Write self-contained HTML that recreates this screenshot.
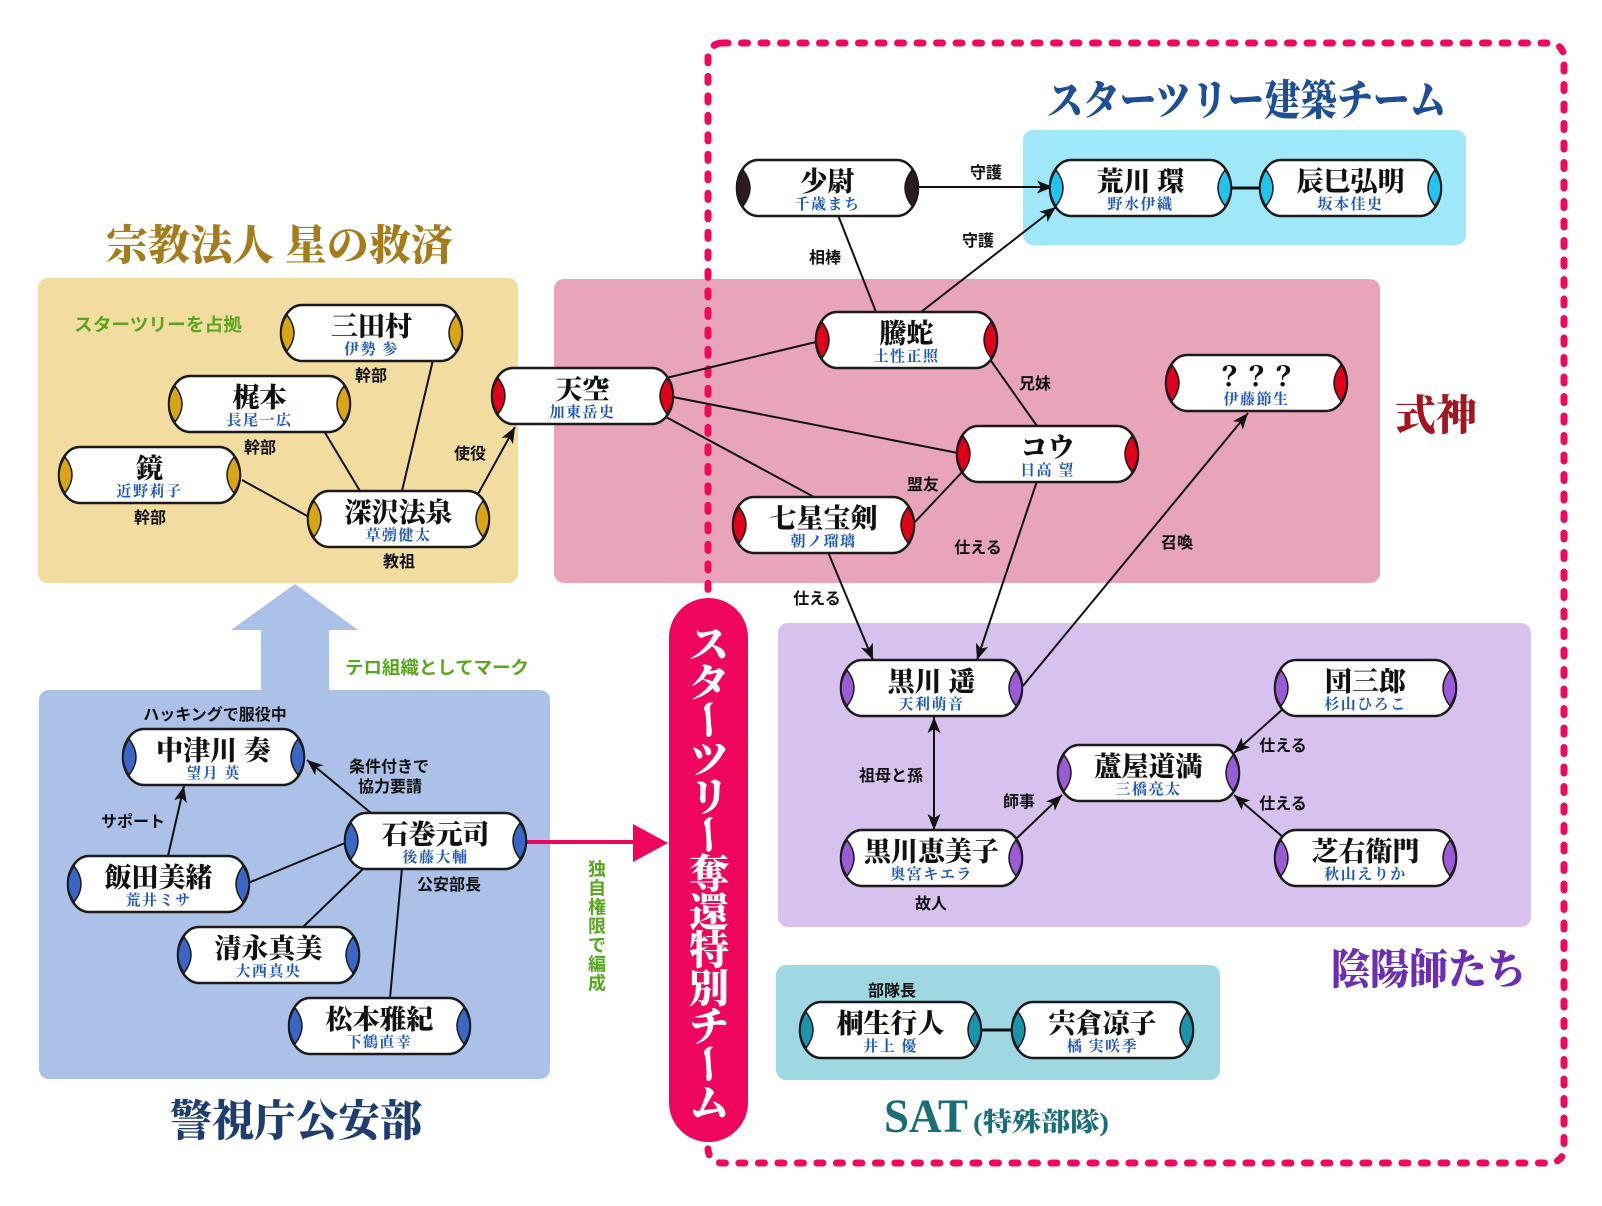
<!DOCTYPE html>
<html><head><meta charset="utf-8">
<style>
html,body{margin:0;padding:0;background:#fff;}
svg{display:block;}
text.n{font:900 27px "Liberation Serif","Noto Serif CJK JP",serif;fill:#111;text-anchor:middle;}
text.s{font:700 15px "Liberation Serif","Noto Serif CJK JP",serif;fill:#1a55c6;text-anchor:middle;letter-spacing:1.5px;}
text.l{font:700 16px "Liberation Sans","Noto Sans CJK JP",sans-serif;fill:#111;text-anchor:middle;}
text.g{font:700 18px "Liberation Sans","Noto Sans CJK JP",sans-serif;fill:#57a61d;text-anchor:middle;}
text.t{font:900 42px "Liberation Serif","Noto Serif CJK JP",serif;}
text.p{font:900 40px "Liberation Serif","Noto Serif CJK JP",serif;fill:#fff;text-anchor:middle;}
</style></head>
<body>
<svg width="1602" height="1206" viewBox="0 0 1602 1206" xmlns="http://www.w3.org/2000/svg">
<defs>
<rect id="body" x="0" y="0" width="181" height="56" rx="21" ry="28" fill="#fff" stroke="#1a1a1a" stroke-width="2.5"/>
<path id="lL" d="M6,10 Q-6,28 6,46 Q20,28 6,10Z" stroke="#1a1a1a" stroke-width="1.5"/>
<path id="lR" d="M175,10 Q187,28 175,46 Q161,28 175,10Z" stroke="#1a1a1a" stroke-width="1.5"/>
<marker id="ah" markerUnits="userSpaceOnUse" markerWidth="17" markerHeight="13" refX="16" refY="6.5" orient="auto">
<path d="M0,0 L16,6.5 L0,13 L4,6.5 Z" fill="#111"/></marker>
<marker id="ah2" markerUnits="userSpaceOnUse" markerWidth="17" markerHeight="13" refX="16" refY="6.5" orient="auto-start-reverse">
<path d="M0,0 L16,6.5 L0,13 L4,6.5 Z" fill="#111"/></marker>
</defs>

<rect x="0" y="0" width="1602" height="1206" fill="#fff"/>

<!-- group boxes -->
<rect x="38" y="278" width="480" height="305" rx="10" fill="#f3dc9f"/>
<rect x="554" y="279" width="826" height="304" rx="10" fill="#e8a5ba"/>
<rect x="1023" y="130" width="443" height="115" rx="10" fill="#9fe8fa"/>
<rect x="39" y="690" width="511" height="389" rx="10" fill="#abc1e7"/>
<rect x="778" y="623" width="753" height="304" rx="10" fill="#d6c1ef"/>
<rect x="776" y="965" width="444" height="115" rx="10" fill="#9fd7e3"/>

<!-- big up arrow -->
<polygon points="295,584 358,630 329,630 329,690 261,690 261,630 231,630" fill="#abc1e7"/>

<!-- titles -->
<text class="t" x="106" y="260" textLength="347" lengthAdjust="spacingAndGlyphs" fill="#a67b1b">宗教法人 星の救済</text>
<text class="t" x="1047" y="115" textLength="399" lengthAdjust="spacingAndGlyphs" fill="#1e4f96">スターツリー建築チーム</text>
<text class="t" x="1395" y="430" textLength="82" lengthAdjust="spacingAndGlyphs" fill="#a3151f">式神</text>
<text class="t" x="1331" y="984" textLength="195" lengthAdjust="spacingAndGlyphs" fill="#6a2db4">陰陽師たち</text>
<text class="t" x="170" y="1136" textLength="252" lengthAdjust="spacingAndGlyphs" fill="#1f3e70" style="font-size:43px">警視庁公安部</text>
<text x="884" y="1132" textLength="84" lengthAdjust="spacingAndGlyphs" fill="#1b6d79" style="font:700 48px 'Liberation Serif',serif">SAT</text>
<text x="973" y="1131" textLength="136" lengthAdjust="spacingAndGlyphs" fill="#1b6d79" style="font:900 26px 'Liberation Serif','Noto Serif CJK JP',serif">(特殊部隊)</text>

<!-- green labels -->
<text class="g" x="158" y="331" textLength="168" lengthAdjust="spacingAndGlyphs">スターツリーを占拠</text>
<text class="g" x="437" y="674" textLength="184" lengthAdjust="spacingAndGlyphs">テロ組織としてマーク</text>
<text class="g" x="597" y="875.5">独</text>
<text class="g" x="597" y="894.5">自</text>
<text class="g" x="597" y="913.5">権</text>
<text class="g" x="597" y="932.5">限</text>
<text class="g" x="597" y="951.5">で</text>
<text class="g" x="597" y="970.5">編</text>
<text class="g" x="597" y="989.5">成</text>

<!-- dashed border -->
<rect x="708" y="43" width="856" height="1120" rx="14" fill="none" stroke="#f2075f" stroke-width="7" stroke-dasharray="6 13.5" stroke-linecap="round"/>

<!-- magenta pill -->
<rect x="669" y="598" width="79" height="544" rx="39.5" fill="#f0055e"/>
<text class="p" x="709" y="658">ス</text>
<text class="p" x="709" y="696.25">タ</text>
<text class="p" x="709" y="734.5" transform="rotate(90 709 719.5)">ー</text>
<text class="p" x="709" y="772.75">ツ</text>
<text class="p" x="709" y="811">リ</text>
<text class="p" x="709" y="849.25" transform="rotate(90 709 834.25)">ー</text>
<text class="p" x="709" y="887.5">奪</text>
<text class="p" x="709" y="925.75">還</text>
<text class="p" x="709" y="964">特</text>
<text class="p" x="709" y="1002.25">別</text>
<text class="p" x="709" y="1040.5">チ</text>
<text class="p" x="709" y="1078.75" transform="rotate(90 709 1063.75)">ー</text>
<text class="p" x="709" y="1117">ム</text>

<!-- magenta arrow -->
<line x1="527" y1="842" x2="635" y2="842" stroke="#f0055e" stroke-width="4"/>
<polygon points="633,824 668,843 633,862" fill="#f0055e"/>

<!-- connectors -->
<g stroke="#111" stroke-width="2" fill="none">
<line x1="242" y1="480" x2="309" y2="517"/>
<line x1="324" y1="431" x2="360" y2="491"/>
<line x1="433" y1="360" x2="402" y2="491"/>
<line x1="478" y1="494" x2="515" y2="427" marker-end="url(#ah)"/>
<line x1="666" y1="378" x2="816" y2="342"/>
<line x1="673" y1="397" x2="958" y2="453"/>
<line x1="666" y1="417" x2="814" y2="497"/>
<line x1="914" y1="523" x2="964" y2="470"/>
<line x1="989" y1="358" x2="1037" y2="426"/>
<line x1="838" y1="215" x2="876" y2="312"/>
<line x1="918" y1="187" x2="1053" y2="187" marker-end="url(#ah)"/>
<line x1="921" y1="312" x2="1056" y2="207" marker-end="url(#ah)"/>
<line x1="1022" y1="687" x2="1248" y2="413" marker-end="url(#ah)"/>
<line x1="828" y1="552" x2="873" y2="660" marker-end="url(#ah)"/>
<line x1="1037" y1="481" x2="977" y2="660" marker-end="url(#ah)"/>
<line x1="1231" y1="188" x2="1260" y2="188" stroke-width="3"/>
<line x1="934" y1="717" x2="934" y2="830" marker-start="url(#ah2)" marker-end="url(#ah2)"/>
<line x1="1017" y1="838" x2="1062" y2="795" marker-end="url(#ah)"/>
<line x1="1284" y1="708" x2="1234" y2="753" marker-end="url(#ah)"/>
<line x1="1284" y1="838" x2="1234" y2="795" marker-end="url(#ah)"/>
<line x1="371" y1="813" x2="307" y2="760" marker-end="url(#ah)"/>
<line x1="168" y1="856" x2="184" y2="786" marker-end="url(#ah)"/>
<line x1="248" y1="883" x2="345" y2="843"/>
<line x1="364" y1="868" x2="303" y2="927"/>
<line x1="402" y1="868" x2="390" y2="998"/>
<line x1="981" y1="1030" x2="1013" y2="1030" stroke-width="3"/>
</g>

<!-- connector labels -->
<text class="l" x="371" y="381">幹部</text>
<text class="l" x="260" y="453">幹部</text>
<text class="l" x="150" y="523">幹部</text>
<text class="l" x="399" y="567">教祖</text>
<text class="l" x="470" y="459">使役</text>
<text class="l" x="825" y="263">相棒</text>
<text class="l" x="986" y="178">守護</text>
<text class="l" x="978" y="246">守護</text>
<text class="l" x="1035" y="389">兄妹</text>
<text class="l" x="923" y="490">盟友</text>
<text class="l" x="978" y="553">仕える</text>
<text class="l" x="1177" y="548">召喚</text>
<text class="l" x="817" y="604">仕える</text>
<text class="l" x="891" y="781">祖母と孫</text>
<text class="l" x="1019" y="807">師事</text>
<text class="l" x="1283" y="751">仕える</text>
<text class="l" x="1283" y="809">仕える</text>
<text class="l" x="931" y="909">故人</text>
<text class="l" x="892" y="996">部隊長</text>
<text class="l" x="215" y="720">ハッキングで服役中</text>
<text class="l" x="389" y="772">条件付きで</text>
<text class="l" x="390" y="792">協力要請</text>
<text class="l" x="133" y="827">サポート</text>
<text class="l" x="449" y="890">公安部長</text>

<!-- nodes: gold -->
<g transform="translate(281,305)" fill="#d8a514"><use href="#body"/><use href="#lL"/><use href="#lR"/><text class="n" x="90.5" y="31">三田村</text><text class="s" x="90.5" y="49">伊勢 参</text></g>
<g transform="translate(169,376)" fill="#d8a514"><use href="#body"/><use href="#lL"/><use href="#lR"/><text class="n" x="90.5" y="31">梶本</text><text class="s" x="90.5" y="49">長尾一広</text></g>
<g transform="translate(59,447)" fill="#d8a514"><use href="#body"/><use href="#lL"/><use href="#lR"/><text class="n" x="90.5" y="31">鏡</text><text class="s" x="90.5" y="49">近野莉子</text></g>
<g transform="translate(308,491)" fill="#d8a514"><use href="#body"/><use href="#lL"/><use href="#lR"/><text class="n" x="90.5" y="31">深沢法泉</text><text class="s" x="90.5" y="49">草彅健太</text></g>

<!-- nodes: red -->
<g transform="translate(492,368)" fill="#e0001a"><use href="#body"/><use href="#lL"/><use href="#lR"/><text class="n" x="90.5" y="31">天空</text><text class="s" x="90.5" y="49">加東岳史</text></g>
<g transform="translate(816,312)" fill="#e0001a"><use href="#body"/><use href="#lL"/><use href="#lR"/><text class="n" x="90.5" y="31">騰蛇</text><text class="s" x="90.5" y="49">土性正照</text></g>
<g transform="translate(957,426)" fill="#e0001a"><use href="#body"/><use href="#lL"/><use href="#lR"/><text class="n" x="90.5" y="31">コウ</text><text class="s" x="90.5" y="49">日高 望</text></g>
<g transform="translate(733,497)" fill="#e0001a"><use href="#body"/><use href="#lL"/><use href="#lR"/><text class="n" x="90.5" y="31">七星宝剣</text><text class="s" x="90.5" y="49">朝ノ瑠璃</text></g>
<g transform="translate(1166,355)" fill="#e0001a"><use href="#body"/><use href="#lL"/><use href="#lR"/><text class="n" x="90.5" y="31">？？？</text><text class="s" x="90.5" y="49">伊藤節生</text></g>

<!-- nodes: black / cyan -->
<g transform="translate(737,160)" fill="#2b1d1d"><use href="#body"/><use href="#lL"/><use href="#lR"/><text class="n" x="90.5" y="31">少尉</text><text class="s" x="90.5" y="49">千歳まち</text></g>
<g transform="translate(1050,160)" fill="#22c4ee"><use href="#body"/><use href="#lL"/><use href="#lR"/><text class="n" x="90.5" y="31">荒川 環</text><text class="s" x="90.5" y="49">野水伊織</text></g>
<g transform="translate(1260,160)" fill="#22c4ee"><use href="#body"/><use href="#lL"/><use href="#lR"/><text class="n" x="90.5" y="31">辰巳弘明</text><text class="s" x="90.5" y="49">坂本佳史</text></g>

<!-- nodes: blue -->
<g transform="translate(123,729)" fill="#3a66c6"><use href="#body"/><use href="#lL"/><use href="#lR"/><text class="n" x="90.5" y="31">中津川 奏</text><text class="s" x="90.5" y="49">望月 英</text></g>
<g transform="translate(345,813)" fill="#3a66c6"><use href="#body"/><use href="#lL"/><use href="#lR"/><text class="n" x="90.5" y="31">石巻元司</text><text class="s" x="90.5" y="49">後藤大輔</text></g>
<g transform="translate(68,856)" fill="#3a66c6"><use href="#body"/><use href="#lL"/><use href="#lR"/><text class="n" x="90.5" y="31">飯田美緒</text><text class="s" x="90.5" y="49">荒井ミサ</text></g>
<g transform="translate(178,927)" fill="#3a66c6"><use href="#body"/><use href="#lL"/><use href="#lR"/><text class="n" x="90.5" y="31">清永真美</text><text class="s" x="90.5" y="49">大西真央</text></g>
<g transform="translate(289,998)" fill="#3a66c6"><use href="#body"/><use href="#lL"/><use href="#lR"/><text class="n" x="90.5" y="31">松本雅紀</text><text class="s" x="90.5" y="49">下鶴直幸</text></g>

<!-- nodes: purple -->
<g transform="translate(841,660)" fill="#9b5ad6"><use href="#body"/><use href="#lL"/><use href="#lR"/><text class="n" x="90.5" y="31">黒川 遥</text><text class="s" x="90.5" y="49">天利萌音</text></g>
<g transform="translate(1275,660)" fill="#9b5ad6"><use href="#body"/><use href="#lL"/><use href="#lR"/><text class="n" x="90.5" y="31">団三郎</text><text class="s" x="90.5" y="49">杉山ひろこ</text></g>
<g transform="translate(1058,745)" fill="#9b5ad6"><use href="#body"/><use href="#lL"/><use href="#lR"/><text class="n" x="90.5" y="31">蘆屋道満</text><text class="s" x="90.5" y="49">三橋亮太</text></g>
<g transform="translate(841,830)" fill="#9b5ad6"><use href="#body"/><use href="#lL"/><use href="#lR"/><text class="n" x="90.5" y="31">黒川恵美子</text><text class="s" x="90.5" y="49">奥宮キエラ</text></g>
<g transform="translate(1275,830)" fill="#9b5ad6"><use href="#body"/><use href="#lL"/><use href="#lR"/><text class="n" x="90.5" y="31">芝右衛門</text><text class="s" x="90.5" y="49">秋山えりか</text></g>

<!-- nodes: teal -->
<g transform="translate(800,1002)" fill="#1b93aa"><use href="#body"/><use href="#lL"/><use href="#lR"/><text class="n" x="90.5" y="31">桐生行人</text><text class="s" x="90.5" y="49">井上 優</text></g>
<g transform="translate(1012,1002)" fill="#1b93aa"><use href="#body"/><use href="#lL"/><use href="#lR"/><text class="n" x="90.5" y="31">宍倉凉子</text><text class="s" x="90.5" y="49">橘 実咲季</text></g>
</svg>
</body></html>
